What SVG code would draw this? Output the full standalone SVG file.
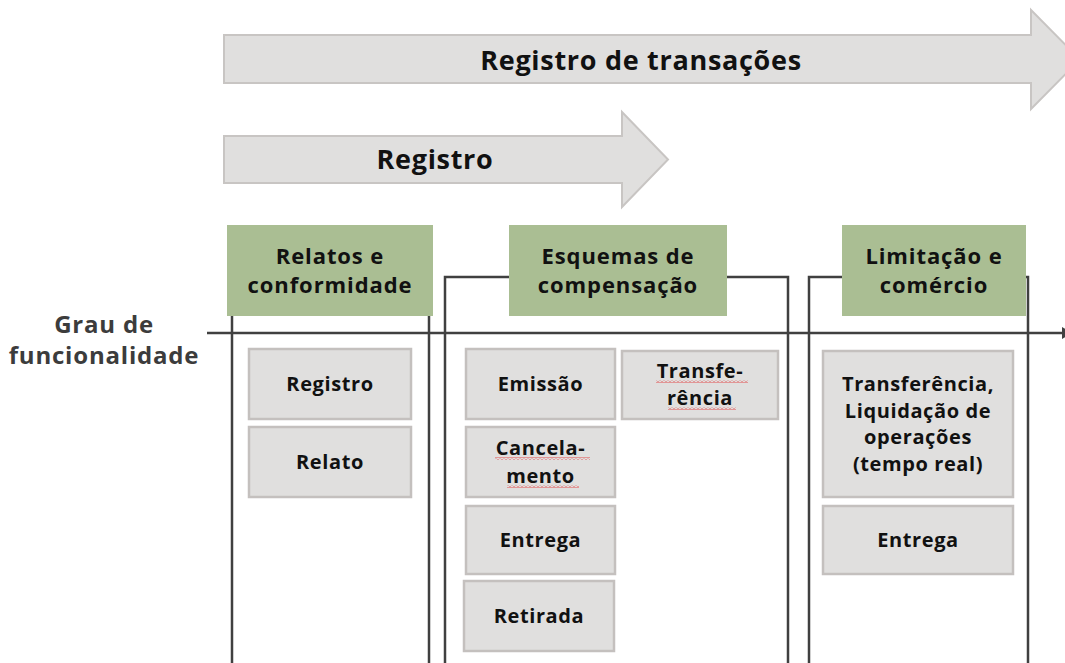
<svg xmlns="http://www.w3.org/2000/svg" width="1065" height="663" viewBox="0 0 1065 663">
  <defs>
    <pattern id="squiggle" x="0" y="0" width="4" height="3" patternUnits="userSpaceOnUse">
      <path d="M0,2.5 L2,0.5 L4,2.5" fill="none" stroke="#e23b3b" stroke-width="0.9"/>
    </pattern>
    <style>
      .arrow { fill: #e0dfde; stroke: #c8c5c3; stroke-width: 2; }
      .arrow-text { font-family: "Open Sans", "Noto Sans", "DejaVu Sans", sans-serif; font-weight: 700; font-size: 27px; fill: #111; text-anchor: middle; letter-spacing: 0.7px; }
      .header { fill: #aabe93; stroke: none; }
      .header-text { font-family: "Open Sans", "Noto Sans", "DejaVu Sans", sans-serif; font-weight: 700; font-size: 22px; fill: #111; text-anchor: middle; letter-spacing: 0.9px; }
      .frame { fill: none; stroke: #404040; stroke-width: 2.5; }
      .box { fill: #e0dfde; stroke: #c4c0be; stroke-width: 2.5; }
      .box-text { font-family: "Open Sans", "Noto Sans", "DejaVu Sans", sans-serif; font-weight: 700; font-size: 20px; fill: #111; text-anchor: middle; letter-spacing: 0.6px; }
      .axis-text { font-family: "Open Sans", "Noto Sans", "DejaVu Sans", sans-serif; font-weight: 700; font-size: 24px; fill: #3c3c3c; text-anchor: middle; letter-spacing: 0.8px; }
      .axis { stroke: #404040; stroke-width: 2.5; fill: none; }
      .spell { fill: url(#squiggle); }
    </style>
  </defs>
  <rect width="1065" height="663" fill="#ffffff"/>

  <g id="arrow-registro-de-transacoes">
    <polygon class="arrow" points="224,35 1031,35 1031,10 1080,59.5 1031,109 1031,83 224,83"/>
    <text class="arrow-text" x="641" y="70">Registro de transações</text>
  </g>

  <g id="arrow-registro">
    <polygon class="arrow" points="224,136 622,136 622,112 668,159.5 622,207 622,183 224,183"/>
    <text class="arrow-text" x="435" y="169">Registro</text>
  </g>

  <g id="frames">
    <path class="frame" d="M232,663 V277 H429 V663"/>
    <path class="frame" d="M445,663 V277 H788 V663"/>
    <path class="frame" d="M809,663 V277 H1028 V663"/>
  </g>

  <g id="connectors">
    <line class="axis" x1="207" y1="333" x2="1062" y2="333"/>
    <polygon points="1062,327 1073,333 1062,339" fill="#404040"/>
  </g>

  <g id="axis-label">
    <text class="axis-text" x="104" y="333">Grau de</text>
    <text class="axis-text" x="104" y="364">funcionalidade</text>
  </g>

  <g id="header-relatos">
    <rect class="header" x="227" y="225" width="206" height="91"/>
    <text class="header-text" x="330" y="264">Relatos e</text>
    <text class="header-text" x="330" y="293">conformidade</text>
  </g>

  <g id="header-esquemas">
    <rect class="header" x="509" y="225" width="218" height="91"/>
    <text class="header-text" x="618" y="264">Esquemas de</text>
    <text class="header-text" x="618" y="293">compensação</text>
  </g>

  <g id="header-limitacao">
    <rect class="header" x="842" y="225" width="184" height="91"/>
    <text class="header-text" x="934" y="264">Limitação e</text>
    <text class="header-text" x="934" y="293">comércio</text>
  </g>

  <g id="box-registro">
    <rect class="box" x="249" y="349" width="162" height="70"/>
    <text class="box-text" x="330" y="391">Registro</text>
  </g>

  <g id="box-relato">
    <rect class="box" x="249" y="427" width="162" height="70"/>
    <text class="box-text" x="330" y="469">Relato</text>
  </g>

  <g id="box-emissao">
    <rect class="box" x="466" y="349" width="149" height="70"/>
    <text class="box-text" x="540.5" y="391">Emissão</text>
  </g>

  <g id="box-transferencia">
    <rect class="box" x="622" y="351" width="156" height="68"/>
    <text class="box-text" x="700" y="378">Transfe-</text>
    <text class="box-text" x="700" y="405">rência</text>
    <rect class="spell" x="656" y="380" width="92" height="3"/>
    <rect class="spell" x="668" y="407" width="68" height="3"/>
  </g>

  <g id="box-cancelamento">
    <rect class="box" x="466" y="427" width="149" height="70"/>
    <text class="box-text" x="540.5" y="455">Cancela-</text>
    <text class="box-text" x="540.5" y="483">mento</text>
    <rect class="spell" x="495" y="457" width="95" height="3"/>
    <rect class="spell" x="507" y="485" width="72" height="3"/>
  </g>

  <g id="box-entrega-esquemas">
    <rect class="box" x="466" y="506" width="149" height="68"/>
    <text class="box-text" x="540.5" y="547">Entrega</text>
  </g>

  <g id="box-retirada">
    <rect class="box" x="464" y="581" width="150" height="70"/>
    <text class="box-text" x="539" y="623">Retirada</text>
  </g>

  <g id="box-transferencia-liquidacao">
    <rect class="box" x="823" y="351" width="190" height="146"/>
    <text class="box-text" x="918" y="391">Transferência,</text>
    <text class="box-text" x="918" y="418">Liquidação de</text>
    <text class="box-text" x="918" y="444">operações</text>
    <text class="box-text" x="918" y="471">(tempo real)</text>
  </g>

  <g id="box-entrega-limitacao">
    <rect class="box" x="823" y="506" width="190" height="68"/>
    <text class="box-text" x="918" y="547">Entrega</text>
  </g>
</svg>
